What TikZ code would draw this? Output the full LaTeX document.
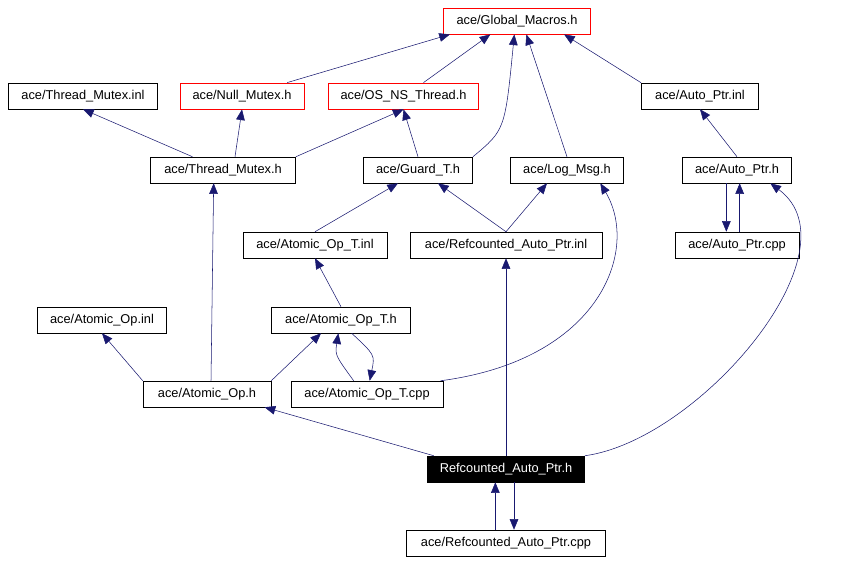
\documentclass[tikz,border=0pt]{standalone}
\usepackage{fontspec}
\setmainfont{Liberation Sans}
\usetikzlibrary{arrows.meta}
\definecolor{edgeblue}{HTML}{191970}
\begin{document}
\begin{tikzpicture}[x=0.75pt, y=-0.75pt,
  file/.style = {draw, inner sep=0pt, minimum height=19.5pt, font=\fontsize{9.6}{11}\selectfont},
  red file/.style = {file, draw=red, line width=0.6pt},
  link/.style = {edgeblue, -{Triangle[length=8pt, width=6.5pt]}}]
\useasboundingbox (0,0) rectangle (855,563);

\node (gm)  [red file, minimum width=110pt] at (517,21) {ace/Global\_Macros.h};
\node (tmi) [file, minimum width=112pt] at (83,96) {ace/Thread\_Mutex.inl};
\node (nm)  [red file, minimum width=93pt] at (242,96) {ace/Null\_Mutex.h};
\node (osn) [red file, minimum width=113pt] at (403.5,96) {ace/OS\_NS\_Thread.h};
\node (api) [file, minimum width=88pt] at (700,96) {ace/Auto\_Ptr.inl};
\node (tmh) [file, minimum width=109pt] at (223,170) {ace/Thread\_Mutex.h};
\node (gt)  [file, minimum width=82pt] at (418,170) {ace/Guard\_T.h};
\node (lm)  [file, minimum width=85pt] at (567,170) {ace/Log\_Msg.h};
\node (aph) [file, minimum width=82pt] at (737,170) {ace/Auto\_Ptr.h};
\node (ati) [file, minimum width=108pt] at (315,245) {ace/Atomic\_Op\_T.inl};
\node (rai) [file, minimum width=144pt] at (506,245) {ace/Refcounted\_Auto\_Ptr.inl};
\node (apc) [file, minimum width=93pt] at (737,245) {ace/Auto\_Ptr.cpp};
\node (aoi) [file, minimum width=97pt] at (102,320) {ace/Atomic\_Op.inl};
\node (ath) [file, minimum width=104pt] at (341,320) {ace/Atomic\_Op\_T.h};
\node (aoh) [file, minimum width=96pt] at (207,394) {ace/Atomic\_Op.h};
\node (atc) [file, minimum width=114pt] at (367,394) {ace/Atomic\_Op\_T.cpp};
\node (rah) [file, fill=black, text=white, minimum width=118pt] at (506,469) {Refcounted\_Auto\_Ptr.h};
\node (rac) [file, minimum width=149pt] at (506,543) {ace/Refcounted\_Auto\_Ptr.cpp};

\draw [link] (nm) -- ([xshift=5pt]gm.south west);
\draw [link] ([xshift=15pt]osn.north) -- ([xshift=-20pt]gm.south);
\draw [link] (gt.north east) .. controls (505,130) .. ([xshift=-2pt]gm.south);
\draw [link] (lm.north) -- ([xshift=7pt]gm.south);
\draw [link] (api.north west) -- ([xshift=-20pt]gm.south east);
\draw [link] (tmh) -- (tmi.south);
\draw [link] ([xshift=9pt]tmh.north) -- (nm.south);
\draw [link] (tmh.north east) -- (osn.south);
\draw [link] (gt.north) -- (osn.south);
\draw [link] (aph.north) -- (api.south);
\draw [link] ([xshift=-8pt]aph.south) -- ([xshift=-8pt]apc.north);
\draw [link] ([xshift=2pt]apc.north) -- ([xshift=2pt]aph.south);
\draw [link] (ati.north) -- ([xshift=-15pt]gt.south);
\draw [link] (rai.north) -- ([xshift=15pt]gt.south);
\draw [link] (rai.north) -- ([xshift=-15pt]lm.south);
\draw [link] (ath.north) -- (ati.south);
\draw [link] (aoh.north west) -- (aoi.south);
\draw [link] ([xshift=3pt]aoh.north) -- ([xshift=-7pt]tmh.south);
\draw [link] (aoh.north east) -- ([xshift=-15pt]ath.south);
\draw [link] ([xshift=-10pt]atc.north) .. controls (335,355) .. ([xshift=-2pt]ath.south);
\draw [link] ([xshift=8pt]ath.south) .. controls (375,355) .. ([xshift=2pt]atc.north);
\draw [link] ([xshift=-2pt]atc.north east) .. controls (600,360) and (640,250) .. ([xshift=25pt]lm.south);
\draw [link] ([xshift=5pt]rah.north west) -- ([xshift=-5pt]aoh.south east);
\draw [link] (rah.north) -- (rai.south);
\draw [link] (rah.north east) .. controls (700,440) and (860,250) .. ([xshift=25pt]aph.south);
\draw [link] ([xshift=-8pt]rac.north) -- ([xshift=-8pt]rah.south);
\draw [link] ([xshift=6pt]rah.south) -- ([xshift=6pt]rac.north);
\end{tikzpicture}
\end{document}
